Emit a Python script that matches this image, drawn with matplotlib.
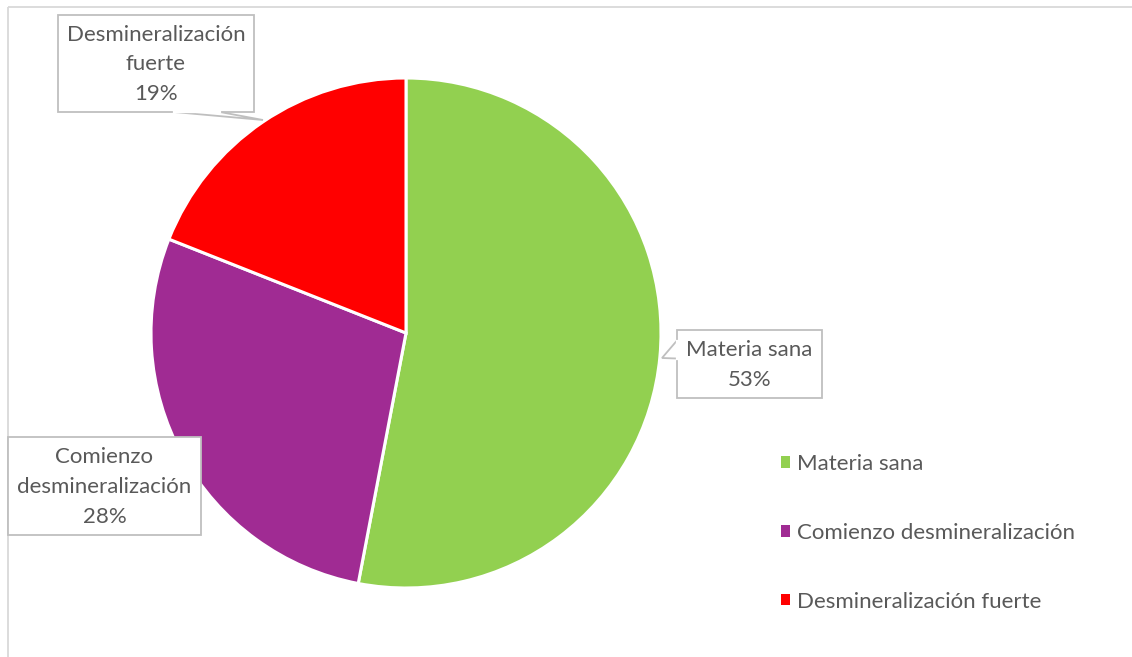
import matplotlib
matplotlib.use("Agg")
import matplotlib.pyplot as plt
from matplotlib.patches import Rectangle, Polygon

# data
categories = ["Materia sana", "Comienzo desmineralización", "Desmineralización fuerte"]
values = [53, 28, 19]
box_labels = ["Materia sana\n53%", "Comienzo\ndesmineralización\n28%", "Desmineralización\nfuerte\n19%"]
colors = ["#92D050", "#A02B93", "#FF0000"]

W, H = 1132, 657
text_color = "#595959"
plt.rcParams['font.family'] = ['Lato', 'DejaVu Sans']

fig = plt.figure(figsize=(W / 100, H / 100), dpi=100)
ax = fig.add_axes([0, 0, 1, 1])

# pie, clockwise from the top
wedges, _ = ax.pie(values, colors=colors, startangle=90, counterclock=False,
                   center=(406, H - 333), radius=255,
                   wedgeprops=dict(edgecolor="white", linewidth=2.2))
ax.set_xlim(0, W)
ax.set_ylim(0, H)
ax.set_aspect("equal")
ax.axis("off")

# chart area frame (only left and top edges are in view)
ax.plot([7.5, 7.5], [0, H - 6.5], color="#D9D9D9", lw=1.3, solid_capstyle="butt")
ax.plot([7.5, W], [H - 6.5, H - 6.5], color="#D9D9D9", lw=1.3, solid_capstyle="butt")


def callout(x0, y0, x1, y1, text, pointer=None):
    # box in pixel coords from the top
    ax.add_patch(Rectangle((x0, H - y1), x1 - x0, y1 - y0, facecolor="white",
                           edgecolor="#BFBFBF", lw=1.3, zorder=5))
    if pointer is not None:
        (ax_, ay_), (bx_, by_), (tx, ty) = pointer
        pts = [(ax_, H - ay_), (tx, H - ty), (bx_, H - by_)]
        ax.add_patch(Polygon(pts, closed=False, facecolor="white",
                             edgecolor="#BFBFBF", lw=1.3, zorder=6))
        ax.plot([ax_, bx_], [H - ay_, H - by_], color="white", lw=1.6, zorder=7)
    ax.text((x0 + x1) / 2, H - (y0 + y1) / 2 - 1, text, ha="center", va="center",
            fontsize=16, color=text_color, linespacing=1.62, zorder=8)


callout(677, 330, 822, 398, box_labels[0],
        pointer=((677, 340.5), (677, 358.5), (662, 358)))
callout(8, 437, 201, 535, box_labels[1])
callout(58, 15, 254, 112, box_labels[2],
        pointer=((174, 112), (220, 112), (263, 120)))

# legend
leg = ax.legend(wedges, categories, loc="upper left",
                bbox_to_anchor=(772 / W, 1 - 445 / H), frameon=False,
                fontsize=16, labelcolor=text_color, handlelength=0.42,
                handleheight=0.42, handletextpad=0.3, labelspacing=2.2,
                borderaxespad=0)
for h in leg.legend_handles:
    h.set_edgecolor("none")

fig.savefig("out.png", dpi=100)
